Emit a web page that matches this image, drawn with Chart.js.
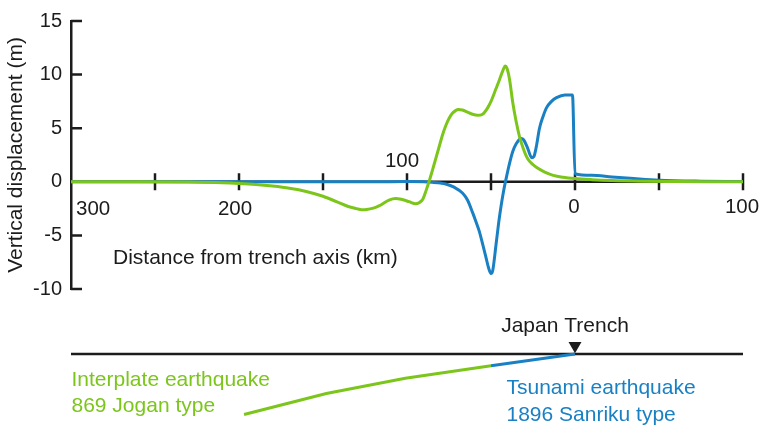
<!DOCTYPE html>
<html>
<head>
<meta charset="utf-8">
<script src="https://cdn.jsdelivr.net/npm/chart.js@4.4.1/dist/chart.umd.min.js"></script>
<style>
  html, body { margin: 0; padding: 0; background: #ffffff; }
  #wrap { position: relative; width: 760px; height: 428px; overflow: hidden; background: #ffffff; }
  #wrap canvas { position: absolute; left: 0; }
  #profile { top: 0; }
  #section { top: 300px; }
</style>
</head>
<body>
<div id="wrap">
  <canvas id="profile" width="760" height="310"></canvas>
  <canvas id="section" width="760" height="128"></canvas>
</div>
<script>
// Vertical sea-floor displacement across the trench (distance in km, negative = landward)
const joganKm = [-300, -260, -230, -210, -200, -190, -180, -170, -160, -150, -142, -135, -130, -127, -124, -120,
  -116.7, -110.7, -106.8, -103, -98.8, -94.8, -92.8, -90.5, -88.6, -86.9, -85, -83, -81, -79, -77, -75, -73, -71, -69.5,
  -67, -64, -61, -58, -55, -52, -50, -47, -45, -43, -41.5, -40.5, -39, -37, -35, -33, -31, -29, -27, -25, -23,
  -18, -13, -7, 0, 10, 22, 40, 60, 80, 100];
const joganDisp = [0, 0, -0.02, -0.08, -0.15, -0.25, -0.4, -0.6, -0.9, -1.35, -1.85, -2.3, -2.5, -2.6, -2.58, -2.45,
  -2.25, -1.7, -1.55, -1.65, -1.85, -2.05, -1.95, -1.6, -0.8, 0, 1.0, 2.1, 3.2, 4.3, 5.2, 5.9, 6.4, 6.65, 6.75,
  6.7, 6.5, 6.3, 6.2, 6.3, 6.9, 7.5, 8.7, 9.5, 10.35, 10.8, 10.6, 9.6, 7.35, 5.6, 4.2, 3.2, 2.4, 1.9, 1.6, 1.35,
  0.9, 0.6, 0.42, 0.3, 0.2, 0.12, 0.06, 0.03, 0.01, 0];

const sanrikuKm = [-300, -200, -150, -120, -100, -90, -85, -80, -77, -72, -67, -64, -61, -59, -57, -55, -53, -51.5,
  -50, -49, -47, -45.5, -44, -42.5, -41, -39, -37, -35, -33, -32, -30.5, -28.2, -25.8, -24.5, -23, -21.2, -19, -17,
  -14, -11, -6, -1.5, 0, 10, 22, 35, 50, 75, 100];
const sanrikuDisp = [0, 0, 0, 0, 0.02, 0, -0.05, -0.12, -0.2, -0.5, -1.05, -1.7, -2.85, -3.7, -4.6, -5.8, -7.05, -8.0,
  -8.55, -8.3, -5.85, -3.9, -2.25, -0.85, 0.3, 1.7, 2.85, 3.55, 3.95, 4.05, 3.9, 3.15, 2.25, 2.35, 3.3, 4.95, 6.1, 6.9,
  7.5, 7.85, 8.1, 8.1, 0.75, 0.6, 0.45, 0.3, 0.15, 0.06, 0.03];

// Distance axis: labelled every 100 km, tick marks every 50 km
const distanceTicks = [-300, -200, -100, 0, 100];
const distanceTickLabels = ['300', '200', '100', '0', '100'];
const distanceMarks = [-250, -200, -150, -100, -50, 0, 50, 100];

// Schematic cross-section of the plate boundary (same distance axis, depth in drawing units)
const surfaceKm = [-300, 100];
const surfaceDepth = [0, 0];
const joganFaultKm = [-197, -148, -101, -50];
const joganFaultDepth = [-68.5, -44.8, -27.5, -13.2];
const sanrikuFaultKm = [-50, 0];
const sanrikuFaultDepth = [-13.2, 0];
const trenchKm = [0];
const trenchMarkHeight = [9.5];

const INK = '#1c1c1c';
const GREEN = '#7cc61c';
const BLUE = '#1a80c4';
const FAMILY = '"Liberation Sans", Arial, Helvetica, sans-serif';

const toPoints = (xs, ys) => xs.map((x, i) => ({ x, y: ys[i] }));

// Draws the distance axis through y = 0, its crossing tick marks, inward ticks on the
// displacement axis, and the distance labels / title.
const profileAxes = {
  id: 'profileAxes',
  beforeDatasetsDraw(chart) {
    const { ctx, scales: { x, y } } = chart;
    const y0 = y.getPixelForValue(0);
    ctx.save();
    ctx.strokeStyle = INK;
    ctx.lineWidth = 2.5;
    ctx.beginPath();
    ctx.moveTo(x.left, y0);
    ctx.lineTo(x.right, y0);
    distanceMarks.forEach(v => {
      const px = x.getPixelForValue(v);
      ctx.moveTo(px, y0 - 8.5);
      ctx.lineTo(px, y0 + 8.5);
    });
    y.ticks.forEach(t => {
      const py = y.getPixelForValue(t.value);
      ctx.moveTo(x.left, py);
      ctx.lineTo(x.left + 11, py);
    });
    ctx.stroke();

    ctx.fillStyle = INK;
    ctx.font = '20.5px ' + FAMILY;
    ctx.textBaseline = 'middle';
    distanceTicks.forEach((v, i) => {
      const px = x.getPixelForValue(v);
      const text = distanceTickLabels[i];
      if (i === 0) {
        ctx.textAlign = 'left';
        ctx.fillText(text, px + 5, y0 + 28);
      } else if (v === -100) {
        ctx.textAlign = 'center';
        ctx.fillText(text, px - 5, y0 - 20);
      } else if (v === -200) {
        ctx.textAlign = 'center';
        ctx.fillText(text, px - 4, y0 + 28);
      } else {
        ctx.textAlign = 'center';
        ctx.fillText(text, px - 1, y0 + 26);
      }
    });
    ctx.font = '21px ' + FAMILY;
    ctx.textAlign = 'left';
    ctx.fillText('Distance from trench axis (km)', 113, y0 + 76);
    ctx.restore();
  }
};

new Chart(document.getElementById('profile'), {
  type: 'line',
  data: {
    datasets: [
      {
        label: 'Interplate earthquake (869 Jogan type)',
        data: toPoints(joganKm, joganDisp),
        borderColor: GREEN,
        borderWidth: 3,
        pointRadius: 0,
        cubicInterpolationMode: 'monotone',
        borderJoinStyle: 'round',
        borderCapStyle: 'round',
        fill: false
      },
      {
        label: 'Tsunami earthquake (1896 Sanriku type)',
        data: toPoints(sanrikuKm, sanrikuDisp),
        borderColor: BLUE,
        borderWidth: 3,
        pointRadius: 0,
        cubicInterpolationMode: 'monotone',
        borderJoinStyle: 'round',
        borderCapStyle: 'round',
        fill: false
      }
    ]
  },
  options: {
    responsive: false,
    animation: false,
    events: [],
    layout: { padding: { left: 0, right: 17, top: 14.5, bottom: 17.5 } },
    plugins: { legend: { display: false }, tooltip: { enabled: false } },
    scales: {
      x: { type: 'linear', min: -300, max: 100, display: false },
      y: {
        type: 'linear',
        min: -10,
        max: 15,
        afterFit(scale) { scale.width = 71; },
        grid: { display: false, drawTicks: false },
        border: { display: true, color: INK, width: 2.5 },
        ticks: { stepSize: 5, color: INK, padding: 9, font: { family: FAMILY, size: 20 } },
        title: {
          display: true,
          text: 'Vertical displacement (m)',
          color: INK,
          font: { family: FAMILY, size: 21 },
          padding: { top: 4, bottom: 0 }
        }
      }
    }
  },
  plugins: [profileAxes]
});

// Labels for the cross-section
const sectionLabels = {
  id: 'sectionLabels',
  afterDatasetsDraw(chart) {
    const { ctx, scales: { x } } = chart;
    ctx.save();
    ctx.font = '21px ' + FAMILY;
    ctx.textBaseline = 'middle';
    ctx.fillStyle = INK;
    ctx.textAlign = 'center';
    ctx.fillText('Japan Trench', x.getPixelForValue(0) - 10, 26);
    ctx.textAlign = 'left';
    ctx.fillStyle = GREEN;
    ctx.fillText('Interplate earthquake', x.left + 0.5, 80.7);
    ctx.fillText('869 Jogan type', x.left + 0.5, 106.7);
    ctx.fillStyle = BLUE;
    ctx.fillText('Tsunami earthquake', 506.5, 88.3);
    ctx.fillText('1896 Sanriku type', 506.5, 115);
    ctx.restore();
  }
};

new Chart(document.getElementById('section'), {
  type: 'line',
  data: {
    datasets: [
      {
        label: 'Trench',
        data: toPoints(trenchKm, trenchMarkHeight),
        showLine: false,
        pointStyle: 'triangle',
        pointRotation: 180,
        pointRadius: 7.5,
        pointBackgroundColor: INK,
        pointBorderWidth: 0
      },
      {
        label: 'Tsunami earthquake fault',
        data: toPoints(sanrikuFaultKm, sanrikuFaultDepth),
        borderColor: BLUE,
        borderWidth: 3,
        pointRadius: 0
      },
      {
        label: 'Interplate earthquake fault',
        data: toPoints(joganFaultKm, joganFaultDepth),
        borderColor: GREEN,
        borderWidth: 3,
        pointRadius: 0
      },
      {
        label: 'Sea floor',
        data: toPoints(surfaceKm, surfaceDepth),
        borderColor: INK,
        borderWidth: 2.5,
        pointRadius: 0
      }
    ]
  },
  options: {
    responsive: false,
    animation: false,
    events: [],
    layout: { padding: { left: 71, right: 17, top: 0, bottom: 0 } },
    plugins: { legend: { display: false }, tooltip: { enabled: false } },
    scales: {
      x: { type: 'linear', min: -300, max: 100, display: false },
      y: { type: 'linear', min: -75.3, max: 52.7, display: false }
    }
  },
  plugins: [sectionLabels]
});
</script>
</body>
</html>
